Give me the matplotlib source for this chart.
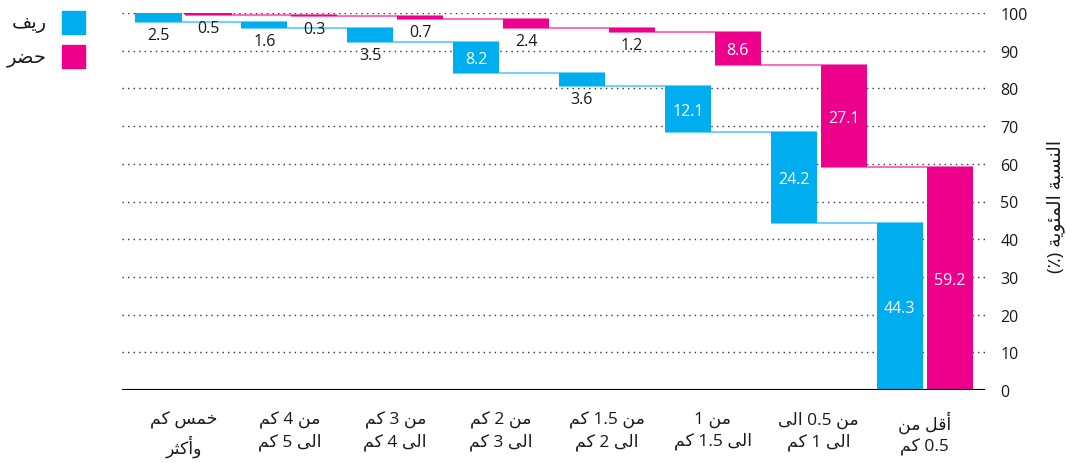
import matplotlib

matplotlib.use("Agg")
import matplotlib.pyplot as plt
import numpy as np
from matplotlib.patches import Rectangle

# distance bands, left to right as drawn
categories = [
    "خمس كم\nوأكثر",
    "من 4 كم\nالى 5 كم",
    "من 3 كم\nالى 4 كم",
    "من 2 كم\nالى 3 كم",
    "من 1.5 كم\nالى 2 كم",
    "من 1\nالى 1.5 كم",
    "من 0.5 الى\nالى 1 كم",
    "أقل من\n0.5 كم",
]
rural = [2.5, 1.6, 3.5, 8.2, 3.6, 12.1, 24.2, 44.3]
urban = [0.5, 0.3, 0.7, 2.4, 1.2, 8.6, 27.1, 59.2]
series_names = ["ريف", "حضر"]
y_label = "النسبة المئوية (٪)"
y_ticks = [0, 10, 20, 30, 40, 50, 60, 70, 80, 90, 100]

BLUE = "#00aeef"
PINK = "#ec008c"
FONTS = ["Open Sans", "DejaVu Sans"]

# contextual forms (isolated, final, initial, medial); None = joins on the right only
_FORMS = {
    "ا": ("\uFE8D", "\uFE8E", None, None),
    "أ": ("\uFE83", "\uFE84", None, None),
    "ئ": ("\uFE89", "\uFE8A", "\uFE8B", "\uFE8C"),
    "ب": ("\uFE8F", "\uFE90", "\uFE91", "\uFE92"),
    "ة": ("\uFE93", "\uFE94", None, None),
    "ث": ("\uFE99", "\uFE9A", "\uFE9B", "\uFE9C"),
    "ح": ("\uFEA1", "\uFEA2", "\uFEA3", "\uFEA4"),
    "خ": ("\uFEA5", "\uFEA6", "\uFEA7", "\uFEA8"),
    "ر": ("\uFEAD", "\uFEAE", None, None),
    "س": ("\uFEB1", "\uFEB2", "\uFEB3", "\uFEB4"),
    "ض": ("\uFEBD", "\uFEBE", "\uFEBF", "\uFEC0"),
    "ف": ("\uFED1", "\uFED2", "\uFED3", "\uFED4"),
    "ق": ("\uFED5", "\uFED6", "\uFED7", "\uFED8"),
    "ك": ("\uFED9", "\uFEDA", "\uFEDB", "\uFEDC"),
    "ل": ("\uFEDD", "\uFEDE", "\uFEDF", "\uFEE0"),
    "م": ("\uFEE1", "\uFEE2", "\uFEE3", "\uFEE4"),
    "ن": ("\uFEE5", "\uFEE6", "\uFEE7", "\uFEE8"),
    "و": ("\uFEED", "\uFEEE", None, None),
    "ى": ("\uFEEF", "\uFEF0", None, None),
    "ي": ("\uFEF1", "\uFEF2", "\uFEF3", "\uFEF4"),
}
_MIRROR = {"(": ")", ")": "("}


def _shape_word(word):
    out = []
    for i, ch in enumerate(word):
        forms = _FORMS.get(ch)
        if forms is None:
            out.append(ch)
            continue
        prev = word[i - 1] if i > 0 else None
        nxt = word[i + 1] if i + 1 < len(word) else None
        joins_prev = prev in _FORMS and _FORMS[prev][2] is not None
        joins_next = forms[2] is not None and nxt in _FORMS
        if joins_prev and joins_next:
            out.append(forms[3])
        elif joins_prev:
            out.append(forms[1])
        elif joins_next:
            out.append(forms[2])
        else:
            out.append(forms[0])
    return "".join(out)


def ar(text):
    """Shape Arabic text and lay it out right-to-left for matplotlib."""
    lines = []
    for line in text.split("\n"):
        tokens = []
        for tok in reversed(line.split(" ")):
            if any("\u0600" <= c <= "\u06ff" for c in tok):
                tok = "".join(_MIRROR.get(c, c) for c in reversed(_shape_word(tok)))
            tokens.append(tok)
        lines.append(" ".join(tokens))
    return "\n".join(lines)


fig = plt.figure(figsize=(10.66, 4.64), dpi=100)
ax = fig.add_axes([122 / 1066, 73 / 464, 863 / 1066, 377 / 464])

x = np.arange(len(categories))
width = 0.435
offset = 0.236

for vals, color, dx in ((rural, BLUE, -offset), (urban, PINK, offset)):
    vals = np.asarray(vals)
    bottoms = 100 - np.cumsum(vals)
    xs = x + dx
    ax.bar(xs, vals, width, bottom=bottoms, color=color, zorder=3)
    # step connectors between consecutive bars
    for i in range(len(vals) - 1):
        ax.plot([xs[i] - width / 2, xs[i + 1] + width / 2], [bottoms[i]] * 2,
                color=color, alpha=0.55, lw=1.5, zorder=2, solid_capstyle="butt")
    for xi, v, b in zip(xs, vals, bottoms):
        if v >= 5:
            ax.annotate(f"{v:.1f}", (xi, b + v / 2), xytext=(0, -4.2),
                        textcoords="offset points", ha="center", va="baseline",
                        color="white", fontsize=11.5, family=FONTS, zorder=4)
        else:
            ax.annotate(f"{v:.1f}", (xi, b), xytext=(0, -12.2),
                        textcoords="offset points", ha="center", va="baseline",
                        color="#1a1a1a", fontsize=11.5, family=FONTS, zorder=4)

ax.set_xlim(-0.581, len(categories) - 1 + 0.571)
ax.set_ylim(0, 100)

for t in y_ticks[1:]:
    ax.axhline(t, color="#333333", lw=1.0, ls=(0, (1, 3)), zorder=1)
ax.axhline(0, color="black", lw=1.5, zorder=5)

for s in ax.spines.values():
    s.set_visible(False)

ax.set_xticks(x)
ax.set_xticklabels([ar(c) for c in categories], family=FONTS, fontsize=12.5,
                   color="#1a1a1a", linespacing=1.35)
ax.tick_params(axis="x", length=0, pad=15)

ax.yaxis.tick_right()
ax.set_yticks(y_ticks)
ax.set_yticklabels([str(t) for t in y_ticks], family=FONTS, fontsize=11.5,
                   color="#1a1a1a")
ax.tick_params(axis="y", length=0, pad=11)
ax.yaxis.set_label_position("right")
ax.set_ylabel(ar(y_label), family=FONTS, fontsize=13.5, rotation=90,
              color="#1a1a1a")
ax.yaxis.set_label_coords(1.071, 0.49)

# legend
for (name, color), ytop in zip(zip(series_names, (BLUE, PINK)), (12, 46)):
    fig.patches.append(Rectangle((62 / 1066, 1 - (ytop + 23) / 464), 23 / 1066, 23 / 464,
                                 transform=fig.transFigure, color=color))
    fig.text(47 / 1066, 1 - (ytop + 12) / 464, ar(name), ha="right", va="center",
             family=FONTS, fontsize=14, color="#1a1a1a")

fig.savefig("out.png", dpi=100)
